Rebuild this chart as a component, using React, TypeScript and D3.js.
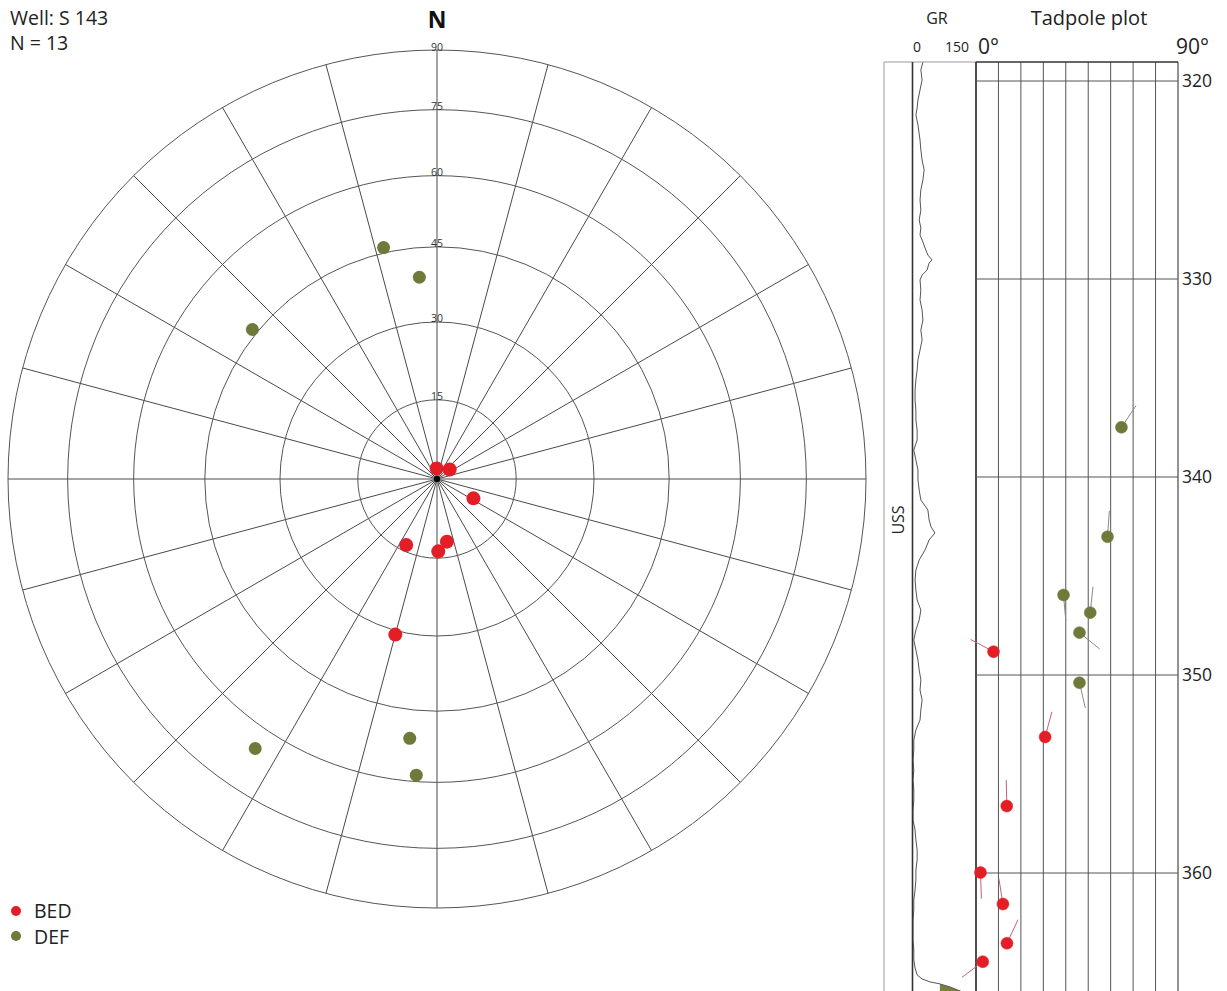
import React from 'react';
import * as d3 from 'd3';

// ---------- data ----------
const WELL_NAME = 'Well: S 143';
const COUNT_LABEL = 'N = 13';

// BED: depth (m), dip (deg), dip azimuth (deg)
const BED_DEPTH = [348.82, 353.13, 356.62, 359.98, 361.57, 363.55, 364.48];
const BED_DIP = [7.8, 30.8, 13.7, 2.0, 12.0, 13.8, 3.0];
const BED_AZI = [298, 15, 359, 178, 351, 25, 233];

// DEF
const DEF_DEPTH = [337.49, 343.02, 345.96, 346.85, 347.86, 350.39];
const DEF_DIP = [64.8, 58.6, 39.0, 50.9, 46.1, 46.1];
const DEF_AZI = [34, 4, 175, 6, 129, 167];

const RING_DIPS = [15, 30, 45, 60, 75, 90];
const SPOKE_AZ = [0, 15, 30, 45, 60, 75, 90, 105, 120, 135, 150, 165, 180, 195, 210, 225, 240, 255, 270, 285, 300, 315, 330, 345];
const DEPTH_TICKS = [320, 330, 340, 350, 360];
const DIP_GRID = [0, 10, 20, 30, 40, 50, 60, 70, 80, 90];

// GR log (depth m, API)
const GR_DEPTH = [319.04, 319.44, 319.95, 320.45, 320.96, 321.36, 321.72, 322.22, 322.98, 323.48, 323.99, 324.49, 325.0, 325.5, 326.01, 326.52, 327.02, 327.42, 327.78, 328.13, 328.43, 328.79, 329.04, 329.19, 329.55, 329.8, 330.05, 330.56, 331.06, 331.57, 332.07, 332.58, 333.08, 333.59, 334.09, 334.6, 335.1, 335.61, 336.11, 336.62, 337.12, 337.63, 338.13, 338.64, 339.14, 339.65, 340.15, 340.66, 341.16, 341.67, 342.17, 342.53, 342.83, 343.18, 343.69, 344.19, 344.7, 345.2, 345.71, 346.21, 346.72, 347.22, 347.73, 348.23, 348.74, 349.24, 349.75, 350.25, 350.76, 351.26, 351.77, 352.27, 352.78, 353.28, 353.79, 354.29, 354.8, 355.3, 355.81, 356.31, 356.82, 357.32, 357.83, 358.33, 358.84, 359.34, 359.85, 360.35, 360.86, 361.36, 361.87, 362.37, 362.88, 363.38, 363.89, 364.39, 364.8, 365.15, 365.35, 365.5, 365.6, 365.76, 365.96, 366.2];
const GR_VALUE = [24, 19, 22, 17, 12, 10, 7, 12, 17, 19, 22, 27, 24, 19, 17, 19, 15, 19, 17, 24, 29, 36, 46, 39, 34, 22, 17, 19, 17, 22, 24, 19, 22, 17, 12, 10, 7, 5, 5, 7, 7, 10, 10, 2, 7, 12, 12, 15, 19, 36, 39, 44, 53, 39, 29, 15, 7, 5, 7, 10, 19, 15, 7, 2, 7, 12, 15, 19, 17, 22, 19, 17, 7, 2, 2, 0, 2, 0, 2, 2, 0, 0, 5, 7, 10, 10, 7, 7, 5, 2, 2, 0, 0, 0, 2, 2, 5, 10, 22, 41, 65, 90, 114, 140];
const GR_SHADE_CUTOFF = 65;

const FONT = "'Open Sans', 'Noto Sans', sans-serif";
const RED = '#e31e26';
const OLIVE = '#6e7a3a';

export default function App() {
  const W = 1227, H = 991;
  // polar (equal-area)
  const cx = 437, cy = 479, R = 429;
  const rEA = d3.scaleSqrt().domain([0, 1]).range([0, R]);
  const rad = (dip: number) => rEA(1 - Math.cos((dip * Math.PI) / 180));
  const polarXY = (dip: number, az: number) => {
    const t = ((az + 180) * Math.PI) / 180; // pole trend
    const r = rad(dip);
    return [cx + r * Math.sin(t), cy - r * Math.cos(t)];
  };

  // log panel
  const y = d3.scaleLinear().domain([320, 360]).range([81, 873]);
  const xDip = d3.scaleLinear().domain([0, 90]).range([976, 1178]);
  const xGR = d3.scaleLinear().domain([0, 150]).range([913, 975]);
  const top = 62;
  const grPts = GR_DEPTH.map((d, i) => ({ d, g: GR_VALUE[i] }));
  const grLine = d3.line<any>().x((p) => xGR(p.g)).y((p) => y(p.d))(grPts) || '';
  const grArea = d3
    .area<any>()
    .defined((p) => p.g >= GR_SHADE_CUTOFF)
    .x0(() => xGR(GR_SHADE_CUTOFF))
    .x1((p) => xGR(p.g))
    .y((p) => y(p.d))(grPts) || '';

  const bed = BED_DEPTH.map((d, i) => ({ d, dip: BED_DIP[i], az: BED_AZI[i] }));
  const def = DEF_DEPTH.map((d, i) => ({ d, dip: DEF_DIP[i], az: DEF_AZI[i] }));
  const TAIL = 26;

  const tadpole = (p: any, color: string, tail: string, k: string) => {
    const x0 = xDip(p.dip), y0 = y(p.d);
    const a = (p.az * Math.PI) / 180;
    return (
      <g key={k}>
        <line x1={x0} y1={y0} x2={x0 + TAIL * Math.sin(a)} y2={y0 - TAIL * Math.cos(a)} stroke={tail} strokeWidth={1} />
        <circle cx={x0} cy={y0} r={6} fill={color} stroke={color} strokeWidth={0.5} />
      </g>
    );
  };

  return (
    <svg width={W} height={H} style={{ position: 'absolute', left: 0, top: 0, background: '#fff' }} fontFamily={FONT}>
      {/* header texts */}
      <text x={10} y={25} fontSize={19.5} fill="#222">{WELL_NAME}</text>
      <text x={10} y={50} fontSize={19.5} fill="#222">{COUNT_LABEL}</text>
      <text x={cx} y={28} fontSize={23} fontWeight="bold" textAnchor="middle" fill="#111">N</text>

      {/* polar grid */}
      {SPOKE_AZ.map((az) => {
        const a = (az * Math.PI) / 180;
        return <line key={'s' + az} x1={cx} y1={cy} x2={cx + R * Math.sin(a)} y2={cy - R * Math.cos(a)} stroke="#4a4a4a" strokeWidth={1} />;
      })}
      {RING_DIPS.map((d) => (
        <circle key={'c' + d} cx={cx} cy={cy} r={rad(d)} fill="none" stroke="#555" strokeWidth={1} />
      ))}
      {RING_DIPS.map((d) => (
        <text key={'l' + d} x={cx} y={cy - rad(d) + 0.5} fontSize={10.5} textAnchor="middle" fill="#333">{d}</text>
      ))}
      <circle cx={cx} cy={cy} r={3} fill="#000" />

      {/* polar points */}
      {def.map((p, i) => {
        const [px, py] = polarXY(p.dip, p.az);
        return <circle key={'pd' + i} cx={px} cy={py} r={6.5} fill={OLIVE} />;
      })}
      {bed.map((p, i) => {
        const [px, py] = polarXY(p.dip, p.az);
        return <circle key={'pb' + i} cx={px} cy={py} r={7} fill={RED} />;
      })}

      {/* legend */}
      <circle cx={16} cy={911} r={5} fill={RED} />
      <text x={34} y={918} fontSize={19.5} fill="#222">BED</text>
      <circle cx={16} cy={936} r={5} fill={OLIVE} />
      <text x={34} y={944} fontSize={19.5} fill="#222">DEF</text>

      {/* log panel headers */}
      <text x={937} y={24} fontSize={16} textAnchor="middle" fill="#222">GR</text>
      <text x={1089} y={25} fontSize={20} textAnchor="middle" fill="#222">Tadpole plot</text>
      <text x={xGR(0) + 4} y={52} fontSize={14} textAnchor="middle" fill="#222">0</text>
      <text x={957} y={52} fontSize={14} textAnchor="middle" fill="#222">150</text>
      <text x={xDip(0) + 2} y={54} fontSize={21} fill="#222">0°</text>
      <text x={xDip(90) - 2} y={54} fontSize={21} fill="#222">90°</text>

      {/* GR track */}
      <path d={grArea} fill="#7a8038" />
      <path d={grLine} fill="none" stroke="#555" strokeWidth={1} />

      {/* frame */}
      <line x1={884} y1={top} x2={884} y2={H} stroke="#aaa" strokeWidth={1.2} />
      <line x1={884} y1={top} x2={976} y2={top} stroke="#999" strokeWidth={1.2} />
      <line x1={912.5} y1={top} x2={912.5} y2={H} stroke="#333" strokeWidth={1.6} />
      <text transform={`translate(904,520) rotate(-90)`} fontSize={16} textAnchor="middle" fill="#222">USS</text>

      {/* tadpole grid */}
      {DIP_GRID.map((g) => (
        <line key={'g' + g} x1={xDip(g)} y1={top} x2={xDip(g)} y2={H}
          stroke={g === 0 ? '#222' : g === 90 ? '#777' : '#555'} strokeWidth={g === 0 || g === 90 ? 1.6 : 1} />
      ))}
      <line x1={xDip(0)} y1={top} x2={xDip(90)} y2={top} stroke="#333" strokeWidth={1.6} />
      {DEPTH_TICKS.map((t) => (
        <g key={'t' + t}>
          <line x1={xDip(0)} y1={y(t)} x2={xDip(90)} y2={y(t)} stroke="#555" strokeWidth={1} />
          <text x={1182} y={y(t) + 6} fontSize={17.5} fill="#222">{t}</text>
        </g>
      ))}

      {/* tadpoles */}
      {def.map((p, i) => tadpole(p, OLIVE, '#8a8a84', 'td' + i))}
      {bed.map((p, i) => tadpole(p, RED, '#c8607a', 'tb' + i))}
    </svg>
  );
}
